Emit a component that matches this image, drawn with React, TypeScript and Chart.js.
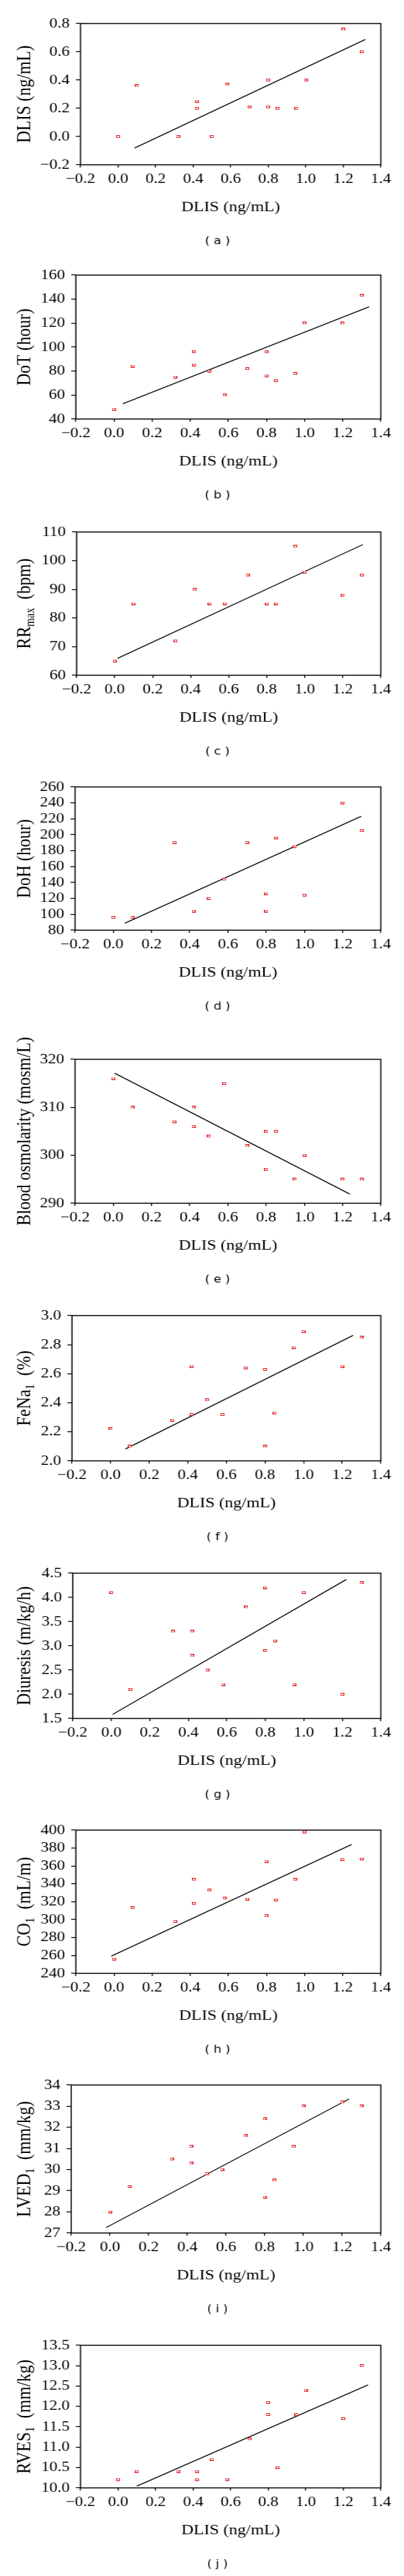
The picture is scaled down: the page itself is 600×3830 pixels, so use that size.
import React, { useEffect, useRef } from "react";
import { Chart, registerables } from "chart.js";

Chart.register(...registerables);

// ---------- DATA ----------
const dlis = [0, 0.1, 0.32, 0.42, 0.42, 0.5, 0.58, 0.7, 0.8, 0.8, 0.85, 0.95, 1.0, 1.2, 1.3];

const dlisA = [0, 0.36, 0, 0.25, 0.2, 0, 0.37, 0.21, 0.4, 0.21, 0.2, 0.2, 0.4, 0.76, 0.6];
const dotB = [48, 84, 75, 96, 85, 80, 60, 82, 96, 76, 72, 78, 120, 120, 143];
const rrMaxC = [65, 85, 72, 90, 90, 85, 85, 95, 85, 85, 85, 105, 96, 88, 95];
const dohD = [96, 96, 190, 104, 104, 120, 144, 190, 126, 104, 196, 185, 124, 240, 205];
const osmE = [316, 310, 307, 310, 306, 304, 315, 302, 305, 297, 305, 295, 300, 295, 295];
const fena1F = [2.22, 2.1, 2.28, 2.65, 2.32, 2.42, 2.32, 2.64, 2.63, 2.1, 2.33, 2.78, 2.89, 2.65, 2.85];
const diuresisG = [4.1, 2.1, 3.3, 3.3, 2.8, 2.5, 2.2, 3.8, 4.2, 2.9, 3.1, 2.2, 4.1, 2.0, 4.3];
const co1H = [256, 313.5, 298, 345, 318, 333, 324, 323, 365, 304.5, 322, 345, 398, 367, 368];
const lved1I = [28.0, 29.2, 30.5, 31.1, 30.3, 29.8, 30.0, 31.6, 32.4, 28.7, 29.5, 31.1, 33.0, 33.2, 33.0];
const rves1J = [10.2, 10.4, 10.4, 10.4, 10.2, 10.7, 10.2, 11.2, 12.1, 11.8, 10.5, 11.8, 12.4, 11.7, 13.0];

const seriesList = [dlisA, dotB, rrMaxC, dohD, osmE, fena1F, diuresisG, co1H, lved1I, rves1J];

// regression line end points [x0, y0, x1, y1]
const fitLines = [
  [0.088, -0.081, 1.318, 0.687],
  [0.046, 52.7, 1.339, 133.6],
  [0.015, 65.9, 1.305, 105.6],
  [0.061, 88.7, 1.298, 223.2],
  [0.007, 317.1, 1.238, 291.9],
  [0.077, 2.082, 1.257, 2.864],
  [0.007, 1.583, 1.221, 4.37],
  [-0.014, 259.25, 1.247, 384],
  [-0.02, 27.255, 1.236, 33.34],
  [0.1, 10.044, 1.332, 12.53],
];

// y axis [min, max, step, decimals]
const yTicks = [
  [-0.2, 0.8, 0.2, 1],
  [40, 160, 20, 0],
  [60, 110, 10, 0],
  [80, 260, 20, 0],
  [290, 320, 10, 0],
  [2.0, 3.0, 0.2, 1],
  [1.5, 4.5, 0.5, 1],
  [240, 400, 20, 0],
  [27, 34, 1, 0],
  [10.0, 13.5, 0.5, 1],
];
const xTicks = [-0.2, 1.4, 0.2, 1];

// y titles: segments starting with "_" are subscripts
const yTitles = [
  ["DLIS (ng/mL)"],
  ["DoT (hour)"],
  ["RR", "_max", "  (bpm)"],
  ["DoH (hour)"],
  ["Blood osmolarity (mosm/L)"],
  ["FeNa", "_1", "  (%)"],
  ["Diuresis (m/kg/h)"],
  ["CO", "_1", "  (mL/m)"],
  ["LVED", "_1", "  (mm/kg)"],
  ["RVES", "_1", "  (mm/kg)"],
];
const xTitle = "DLIS (ng/mL)";
const captions = ["( a )", "( b )", "( c )", "( d )", "( e )", "( f )", "( g )", "( h )", "( i )", "( j )"];

// ---------- LAYOUT ----------
// the figure is drawn on a 522px-wide canvas and stretched horizontally to 600px
const CANVAS_W = 522;
const STRETCH = 600 / CANVAS_W;
const PANEL_H = 383;
const PLOT_RIGHT = 492;
const panelLayout = [
  { top: 35, bottom: 245, left: 104 },
  { top: 26, bottom: 240, left: 98 },
  { top: 25, bottom: 238, left: 99 },
  { top: 21, bottom: 234, left: 97 },
  { top: 43, bottom: 257, left: 97 },
  { top: 41, bottom: 257, left: 93 },
  { top: 41, bottom: 257, left: 94 },
  { top: 40, bottom: 253, left: 98 },
  { top: 36, bottom: 256, left: 92 },
  { top: 40, bottom: 252, left: 104 },
];

const SERIF = "'Liberation Serif', 'Times New Roman', serif";
const RED = "#e3141c";

function fmt(v: number, dec: number) {
  if (Math.abs(v) < 1e-9) v = 0;
  const s = v.toFixed(dec);
  return s.replace("-", "\u2212");
}

function makeMarker() {
  const c = document.createElement("canvas");
  c.width = 5;
  c.height = 4;
  const g = c.getContext("2d")!;
  g.fillStyle = RED;
  g.fillRect(0, 0, 5, 4);
  g.fillStyle = "#ffffff";
  g.fillRect(1, 1, 3, 2);
  return c;
}

const decorPlugin = {
  id: "decor",
  afterDraw(chart: any, _args: any, opts: any) {
    const { ctx, chartArea: a } = chart;
    ctx.save();
    // frame
    ctx.strokeStyle = "#000";
    ctx.lineWidth = 1.5;
    ctx.strokeRect(a.left, a.top, a.right - a.left, a.bottom - a.top);

    // y title (rotated, with subscripts)
    const segs: string[] = opts.segments;
    const mainFont = `25px ${SERIF}`;
    const subFont = `16px ${SERIF}`;
    const parts = segs.map((s) => {
      const sub = s.startsWith("_");
      const text = sub ? s.slice(1) : s;
      ctx.font = sub ? subFont : mainFont;
      return { text, sub, w: ctx.measureText(text).width };
    });
    const total = parts.reduce((acc, p) => acc + p.w, 0);
    ctx.translate(opts.titleBaselineX, (a.top + a.bottom) / 2);
    ctx.rotate(-Math.PI / 2);
    ctx.fillStyle = "#000";
    ctx.textBaseline = "alphabetic";
    ctx.textAlign = "left";
    let x = -total / 2;
    for (const p of parts) {
      ctx.font = p.sub ? subFont : mainFont;
      ctx.fillText(p.text, x, p.sub ? 5 : 0);
      x += p.w;
    }
    ctx.setTransform(1, 0, 0, 1, 0, 0);

    // caption
    ctx.font = `16px 'DejaVu Sans', sans-serif`;
    ctx.textAlign = "center";
    ctx.textBaseline = "middle";
    ctx.fillStyle = "#000";
    ctx.fillText(opts.caption, opts.captionX, a.bottom + opts.captionDy);
    ctx.restore();
  },
};

function Panel({ idx }: { idx: number }) {
  const ref = useRef<HTMLCanvasElement | null>(null);
  useEffect(() => {
    const canvas = ref.current;
    if (!canvas) return;
    const lay = panelLayout[idx];
    const [ymin, ymax, ystep, ydec] = yTicks[idx];
    const [xmin, xmax, xstep, xdec] = xTicks;
    const fit = fitLines[idx];
    const marker = makeMarker();
    const xTitleSize = 22;
    const xTitleCenter = lay.bottom + 63;
    const xTitlePadBottom = PANEL_H - xTitleCenter - (xTitleSize * 1.2) / 2;

    const chart = new Chart(canvas, {
      type: "scatter",
      data: {
        datasets: [
          {
            data: dlis.map((x, i) => ({ x, y: seriesList[idx][i] })),
            pointStyle: marker as any,
            pointRadius: 3,
            pointHoverRadius: 3,
            borderColor: RED,
            backgroundColor: "#fff",
            order: 1,
          },
          {
            type: "line" as any,
            data: [
              { x: fit[0], y: fit[1] },
              { x: fit[2], y: fit[3] },
            ],
            borderColor: "#000",
            borderWidth: 1.4,
            pointRadius: 0,
            fill: false,
            showLine: true,
            order: 2,
          },
        ],
      },
      options: {
        animation: false,
        responsive: false,
        devicePixelRatio: 1,
        events: [],
        layout: {
          padding: { top: lay.top, right: CANVAS_W - PLOT_RIGHT, left: 0, bottom: 0 },
        },
        plugins: {
          legend: { display: false },
          tooltip: { enabled: false },
          decor: {
            segments: yTitles[idx],
            titleBaselineX: 39,
            caption: captions[idx],
            captionX: 281,
            captionDy: 114,
          },
        } as any,
        scales: {
          x: {
            type: "linear",
            min: xmin,
            max: xmax,
            afterFit: (s: any) => {
              s.height = PANEL_H - lay.bottom;
            },
            ticks: {
              stepSize: xstep,
              color: "#000",
              font: { family: SERIF, size: 21 },
              padding: 5,
              maxRotation: 0,
              autoSkip: false,
              callback: (v: any) => fmt(Number(v), xdec),
            },
            grid: {
              display: true,
              drawOnChartArea: false,
              drawTicks: true,
              tickLength: 4,
              color: "#000",
              lineWidth: 1.3,
            },
            border: { display: false },
            title: {
              display: true,
              text: xTitle,
              color: "#000",
              font: { family: SERIF, size: xTitleSize },
              padding: { top: 0, bottom: xTitlePadBottom },
            },
          },
          y: {
            type: "linear",
            min: ymin,
            max: ymax,
            afterFit: (s: any) => {
              s.width = lay.left;
            },
            ticks: {
              stepSize: ystep,
              color: "#000",
              font: { family: SERIF, size: 21 },
              padding: 8,
              autoSkip: false,
              callback: (v: any) => fmt(Number(v), ydec),
            },
            grid: {
              display: true,
              drawOnChartArea: false,
              drawTicks: true,
              tickLength: 6,
              color: "#000",
              lineWidth: 1.3,
            },
            border: { display: false },
            title: { display: false },
          },
        },
      },
      plugins: [decorPlugin as any],
    });
    return () => chart.destroy();
  }, [idx]);

  return (
    <div style={{ width: 600, height: PANEL_H, position: "relative", overflow: "hidden" }}>
      <div
        style={{
          width: CANVAS_W,
          height: PANEL_H,
          transform: `scaleX(${STRETCH})`,
          transformOrigin: "0 0",
        }}
      >
        <canvas
          ref={ref}
          width={CANVAS_W}
          height={PANEL_H}
          style={{ display: "block", width: CANVAS_W, height: PANEL_H }}
        />
      </div>
    </div>
  );
}

export default function App() {
  useEffect(() => {
    document.body.style.margin = "0";
    document.body.style.background = "#fff";
  }, []);
  return (
    <div style={{ width: 600, background: "#fff" }}>
      {seriesList.map((_, i) => (
        <Panel key={i} idx={i} />
      ))}
    </div>
  );
}
